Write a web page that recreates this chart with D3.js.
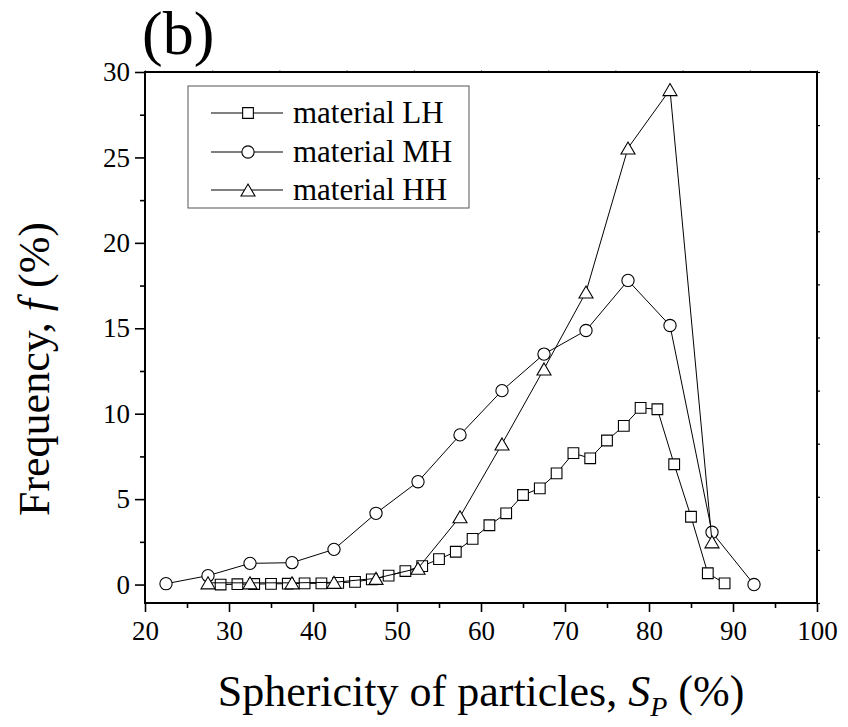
<!DOCTYPE html>
<html><head><meta charset="utf-8">
<script src="https://cdn.jsdelivr.net/npm/d3@7"></script>
<style>
body{margin:0;background:#fff;}
svg text{font-family:"Liberation Serif","Times New Roman",Tinos,serif;fill:#000;}
</style></head>
<body><svg id="chart" width="848" height="727"></svg>
<script>
const lhX = [29,31,33,35,37,39,41,43,45,47,49,51,53,55,57,59,61,63,65,67,69,71,73,75,77,79,81,83,85,87,89];
const lhY = [0.0,0.02,0.03,0.04,0.05,0.07,0.07,0.1,0.16,0.3,0.52,0.79,1.08,1.49,1.92,2.67,3.47,4.17,5.24,5.63,6.51,7.69,7.39,8.43,9.29,10.34,10.26,7.04,3.97,0.66,0.07];
const mhX = [22.5,27.5,32.5,37.5,42.5,47.5,52.5,57.5,62.5,67.5,72.5,77.5,82.5,87.5,92.5];
const mhY = [0.05,0.52,1.24,1.28,2.06,4.17,6.02,8.76,11.35,13.49,14.87,17.8,15.16,3.06,0.0];
const hhX = [27.5,32.5,37.5,42.5,47.5,52.5,57.5,62.5,67.5,72.5,77.5,82.5,87.5];
const hhY = [0.1,0.1,0.1,0.13,0.36,0.95,3.97,8.23,12.62,17.12,25.55,28.97,2.5];
const seriesNames = ["material LH","material MH","material HH"];
const xTicks = [20,30,40,50,60,70,80,90,100];
const yTicks = [0,5,10,15,20,25,30];

const svg = d3.select("#chart");
const L=145,R=817,T=72,B=603;
const x = d3.scaleLinear().domain([20,100]).range([L,R]);
const y = d3.scaleLinear().domain([-1.08,30]).range([B,T]);
const FONT = '"Liberation Serif","Times New Roman",Tinos,serif';

// axes
const gx = svg.append("g").attr("transform",`translate(0,${B})`)
  .call(d3.axisBottom(x).tickValues(xTicks).tickSize(9).tickPadding(9).tickFormat(d3.format("d")));
const gxm = svg.append("g").attr("transform",`translate(0,${B})`)
  .call(d3.axisBottom(x).tickValues(d3.range(25,100,10)).tickSize(5).tickFormat(""));
const gy = svg.append("g").attr("transform",`translate(${L},0)`)
  .call(d3.axisLeft(y).tickValues(yTicks).tickSize(10).tickPadding(5).tickFormat(d3.format("d")));
const gym = svg.append("g").attr("transform",`translate(${L},0)`)
  .call(d3.axisLeft(y).tickValues(d3.range(2.5,30,5)).tickSize(5).tickFormat(""));
// mirrored axes (top/right) with fine ticks
const xTop = d3.scaleLinear().domain([0,10]).range([L,R]);
const yRight = d3.scaleLinear().domain([0,10]).range([B,T]);
const gt = svg.append("g").attr("transform",`translate(0,${T})`)
  .call(d3.axisTop(xTop).ticks(10).tickSize(2).tickFormat(""));
const gr = svg.append("g").attr("transform",`translate(${R},0)`)
  .call(d3.axisRight(yRight).ticks(10).tickSize(3).tickFormat(""));
[gx,gxm,gy,gym,gt,gr].forEach(g=>{
  g.attr("font-family",FONT);
  g.select(".domain").remove();
  g.selectAll("line").attr("stroke","#000").attr("stroke-width",1.6);
  g.selectAll("text").style("font-size","27px").style("font-family",FONT);
});
gt.selectAll("line").attr("stroke","#888").attr("stroke-width",1);
gr.selectAll("line").attr("stroke-width",1.2);
svg.append("rect").attr("x",L).attr("y",T).attr("width",R-L).attr("height",B-T)
  .attr("fill","none").attr("stroke","#000").attr("stroke-width",2);

// series
const line = d3.line().x(d=>x(d[0])).y(d=>y(d[1]));
function sym(type){
  if(type==="square") return d3.symbol().type(d3.symbolSquare).size(115)();
  if(type==="circle") return d3.symbol().type(d3.symbolCircle).size(118)();
  return null;
}
function triPath(){ const w=7,h=12; return `M0,${-h/2}L${w},${h/2}L${-w},${h/2}Z`; }
const series = [
  {xs:lhX, ys:lhY, type:"square"},
  {xs:mhX, ys:mhY, type:"circle"},
  {xs:hhX, ys:hhY, type:"triangle"}
];
series.forEach(s=>{
  const pts = s.xs.map((v,i)=>[v,s.ys[i]]);
  svg.append("path").datum(pts).attr("d",line).attr("fill","none").attr("stroke","#000").attr("stroke-width",1);
  svg.append("g").selectAll("path").data(pts).join("path")
    .attr("transform",d=>`translate(${x(d[0])},${y(d[1])})`)
    .attr("d",s.type==="triangle"?triPath():sym(s.type))
    .attr("fill","#fff").attr("stroke","#000").attr("stroke-width",1.1);
});

// legend
const lg = svg.append("g");
lg.append("rect").attr("x",188).attr("y",86).attr("width",281).attr("height",122)
  .attr("fill","#fff").attr("stroke","#555").attr("stroke-width",1);
const rowsY=[113,152,190];
const types=["square","circle","triangle"];
seriesNames.forEach((n,i)=>{
  lg.append("line").attr("x1",211).attr("x2",283).attr("y1",rowsY[i]).attr("y2",rowsY[i]).attr("stroke","#000").attr("stroke-width",1);
  lg.append("path").attr("transform",`translate(248,${rowsY[i]})`)
    .attr("d",types[i]==="triangle"?triPath():sym(types[i]))
    .attr("fill","#fff").attr("stroke","#000").attr("stroke-width",1.1);
  lg.append("text").attr("x",293).attr("y",rowsY[i]+10).style("font-size","31px").text(n);
});

// titles
svg.append("text").attr("x",142).attr("y",54).style("font-size","62px").text("(b)");
const yt = svg.append("text").attr("transform","translate(49,369) rotate(-90)")
  .attr("text-anchor","middle").style("font-size","44px");
yt.append("tspan").text("Frequency, ");
yt.append("tspan").style("font-style","italic").text("f");
yt.append("tspan").text(" (%)");
const xt = svg.append("text").attr("x",481).attr("y",706).attr("text-anchor","middle").style("font-size","44px");
xt.append("tspan").text("Sphericity of particles, ");
xt.append("tspan").style("font-style","italic").text("S");
xt.append("tspan").style("font-style","italic").style("font-size","28px").attr("dy",10).text("P");
xt.append("tspan").attr("dy",-10).text(" (%)");
</script></body></html>
